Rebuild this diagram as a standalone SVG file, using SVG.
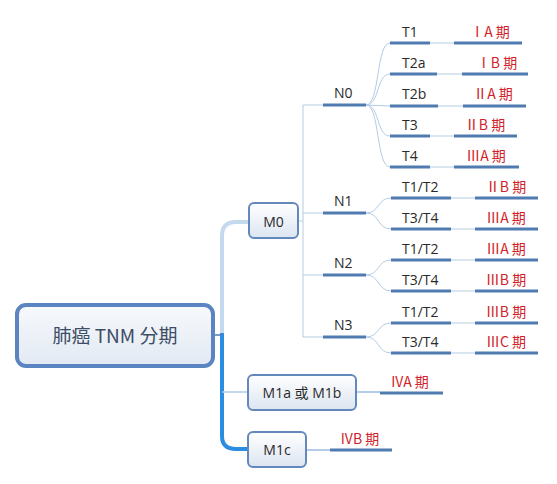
<svg xmlns="http://www.w3.org/2000/svg" width="557" height="484" viewBox="0 0 557 484">
<defs>
<linearGradient id="gNode" x1="0" y1="0" x2="0" y2="1">
<stop offset="0" stop-color="#ffffff"/>
<stop offset="1" stop-color="#dce5f1"/>
</linearGradient>
<linearGradient id="gRoot" x1="0" y1="0" x2="0" y2="1">
<stop offset="0" stop-color="#f7f9fc"/>
<stop offset="1" stop-color="#e2e9f3"/>
</linearGradient>
</defs>
<style>
.node rect{fill:url(#gNode);stroke:#6388bb;stroke-width:2}
.root rect{fill:url(#gRoot);stroke:#5a85c2;stroke-width:4}
.lbl{font-family:"Open Sans","Noto Sans","Noto Sans CJK SC",sans-serif;font-size:14px;fill:#2a2a2a}
.root text{font-family:"Noto Sans CJK SC","Noto Sans",sans-serif;font-size:19px;fill:#3c4d66}
.stage{font-family:"Noto Sans CJK SC","Noto Sans",sans-serif;font-size:14px;fill:#d21f2b;text-anchor:middle}
.ul{stroke:#4f7bb0;stroke-width:3;fill:none}
.thin{stroke:#b3cce4;stroke-width:1;fill:none}
.dk{stroke:#6a9ad0;stroke-width:1.2;fill:none}
</style>
<g id="connectors">
<path d="M222,335 L222,236 Q222,222 236,222 L249,222" stroke="#c5d9ee" stroke-width="4" fill="none"/>
<path d="M222,333 L222,436 Q222,449 236,449 L248,449" stroke="#2b8de0" stroke-width="4" fill="none"/>
<path d="M213,335 L222,335" stroke="#4f7bb0" stroke-width="1.5"/>
<path d="M222,392 L248,392" stroke="#b3cce4" stroke-width="1.5"/>
<path class="thin" d="M298,221 L303,221 M303,105 L303,337 M303,105 L323,105 M303,213 L323,213 M303,275 L323,275 M303,337 L323,337"/>
<path class="thin" d="M366,105 C380,105 376,43 390,43 M366,105 C380,105 376,74 390,74 M366,105 L390,106 M366,105 C380,105 376,136 390,136 M366,105 C380,105 376,167 390,167"/>
<path class="thin" d="M366,213 C380,213 377,198 391,198 M366,213 C380,213 377,229 391,229"/>
<path class="thin" d="M366,275 C380,275 377,260 391,260 M366,275 C380,275 377,291 391,291"/>
<path class="thin" d="M366,337 C380,337 377,323 391,323 M366,337 C380,337 377,353 391,353"/>
<path class="thin" d="M430,43 L454,43 M437,74 L462,74 M438,106 L463,106 M430,136 L454,136 M430,167 L454,167"/>
<path class="thin" d="M451,198 L475,198 M451,229 L475,229 M451,260 L475,260 M451,291 L475,291 M451,323 L475,323 M451,353 L475,353"/>
<path class="dk" d="M356,392 L380,392 M306,450 L330,450"/>
</g>
<g id="root" class="root">
<rect x="17" y="305" width="196" height="61" rx="9"/>
<text x="115" y="343" text-anchor="middle">肺癌 TNM 分期</text>
</g>
<g id="M0" class="node">
<rect x="249" y="203" width="49" height="35" rx="5"/>
<text class="lbl" x="273.5" y="227" text-anchor="middle">M0</text>
</g>
<g id="M1ab" class="node">
<rect x="248" y="375" width="108" height="35" rx="5"/>
<text class="lbl" x="302" y="398" text-anchor="middle">M1a 或 M1b</text>
</g>
<g id="M1c" class="node">
<rect x="248" y="432" width="58" height="35" rx="5"/>
<text class="lbl" x="277" y="455" text-anchor="middle">M1c</text>
</g>
<g id="IVA"><path class="ul" d="M380,393 L443,393"/><text class="stage" x="410" y="387">IVA 期</text></g>
<g id="IVB"><path class="ul" d="M330,450 L392,450"/><text class="stage" x="360" y="444">IVB 期</text></g>
<g id="N0"><path class="ul" d="M323,105 L366,105"/><text class="lbl" x="334" y="98">N0</text></g>
<g id="N1"><path class="ul" d="M323,213 L366,213"/><text class="lbl" x="334" y="206">N1</text></g>
<g id="N2"><path class="ul" d="M323,275 L366,275"/><text class="lbl" x="334" y="268">N2</text></g>
<g id="N3"><path class="ul" d="M323,337 L366,337"/><text class="lbl" x="334" y="330">N3</text></g>
<g id="N0T1"><path class="ul" d="M390,43 L430,43"/><text class="lbl" x="402" y="37">T1</text><path class="ul" d="M454,43 L522,43"/><text class="stage" x="490" y="37">ⅠA 期</text></g>
<g id="N0T2a"><path class="ul" d="M390,74 L437,74"/><text class="lbl" x="402" y="68">T2a</text><path class="ul" d="M462,74 L528,74"/><text class="stage" x="497" y="68">ⅠB 期</text></g>
<g id="N0T2b"><path class="ul" d="M390,106 L438,106"/><text class="lbl" x="402" y="99">T2b</text><path class="ul" d="M463,106 L526,106"/><text class="stage" x="493" y="99">ⅡA 期</text></g>
<g id="N0T3"><path class="ul" d="M390,136 L430,136"/><text class="lbl" x="402" y="130">T3</text><path class="ul" d="M454,136 L517,136"/><text class="stage" x="485" y="130">ⅡB 期</text></g>
<g id="N0T4"><path class="ul" d="M390,167 L430,167"/><text class="lbl" x="402" y="161">T4</text><path class="ul" d="M454,167 L519,167"/><text class="stage" x="486" y="161">ⅢA 期</text></g>
<g id="N1T12"><path class="ul" d="M391,198 L451,198"/><text class="lbl" x="402" y="192">T1/T2</text><path class="ul" d="M475,198 L538,198"/><text class="stage" x="506" y="192">ⅡB 期</text></g>
<g id="N1T34"><path class="ul" d="M391,229 L451,229"/><text class="lbl" x="402" y="223">T3/T4</text><path class="ul" d="M475,229 L538,229"/><text class="stage" x="506" y="223">ⅢA 期</text></g>
<g id="N2T12"><path class="ul" d="M391,260 L451,260"/><text class="lbl" x="402" y="254">T1/T2</text><path class="ul" d="M475,260 L538,260"/><text class="stage" x="506" y="254">ⅢA 期</text></g>
<g id="N2T34"><path class="ul" d="M391,291 L451,291"/><text class="lbl" x="402" y="285">T3/T4</text><path class="ul" d="M475,291 L538,291"/><text class="stage" x="506" y="285">ⅢB 期</text></g>
<g id="N3T12"><path class="ul" d="M391,323 L451,323"/><text class="lbl" x="402" y="317">T1/T2</text><path class="ul" d="M475,323 L538,323"/><text class="stage" x="506" y="317">ⅢB 期</text></g>
<g id="N3T34"><path class="ul" d="M391,353 L451,353"/><text class="lbl" x="402" y="347">T3/T4</text><path class="ul" d="M475,353 L538,353"/><text class="stage" x="506" y="347">ⅢC 期</text></g>
</svg>
